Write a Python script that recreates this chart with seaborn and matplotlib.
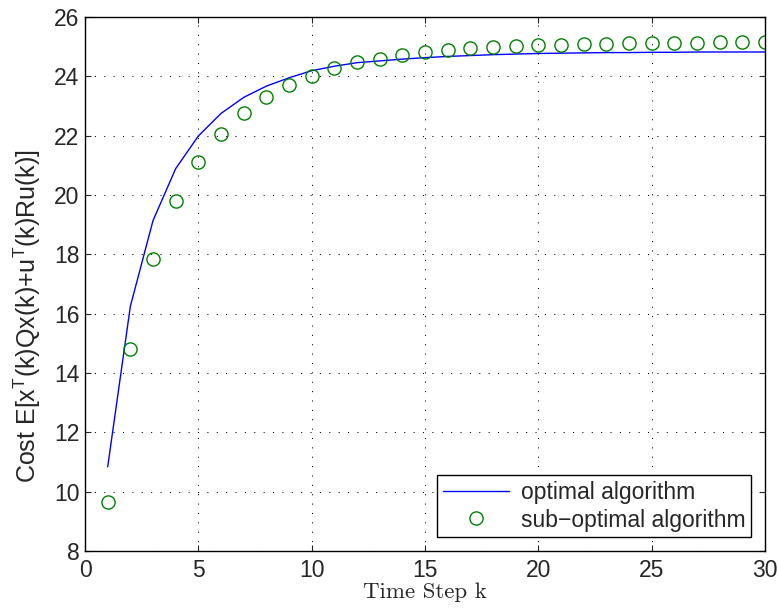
import numpy as np
import pandas as pd
import matplotlib
matplotlib.use('Agg')
import matplotlib.pyplot as plt
import seaborn as sns

# time steps
steps = list(range(1, 31))

# optimal algorithm cost (blue line)
optimal_cost = [10.84, 16.25, 19.14, 20.89, 21.99, 22.75, 23.29, 23.67, 23.95, 24.19,
                24.34, 24.46, 24.52, 24.58, 24.63, 24.67, 24.70, 24.73, 24.75, 24.77,
                24.78, 24.79, 24.80, 24.80, 24.81, 24.81, 24.82, 24.82, 24.82, 24.82]

# sub-optimal algorithm cost (green circles)
suboptimal_cost = [9.65, 14.82, 17.85, 19.80, 21.12, 22.07, 22.78, 23.30, 23.71, 24.02,
                   24.27, 24.47, 24.60, 24.72, 24.81, 24.88, 24.94, 24.98, 25.02, 25.05,
                   25.07, 25.09, 25.10, 25.11, 25.12, 25.13, 25.13, 25.14, 25.14, 25.14]

sns.set_style('ticks')
plt.rcParams['font.family'] = ['Liberation Sans', 'DejaVu Sans']
plt.rcParams['mathtext.fontset'] = 'custom'
plt.rcParams['mathtext.rm'] = 'Liberation Sans'
plt.rcParams['mathtext.it'] = 'Liberation Sans'

df = pd.DataFrame({'k': steps, 'optimal': optimal_cost, 'suboptimal': suboptimal_cost})

fig = plt.figure(figsize=(7.78, 6.11), dpi=100)
ax = fig.add_axes([0.1093, 0.0982, 0.874, 0.874])

sns.lineplot(data=df, x='k', y='optimal', ax=ax, color='#0000ff', linewidth=1.0,
             label='optimal algorithm')
sns.lineplot(data=df, x='k', y='suboptimal', ax=ax, linestyle='', marker='o',
             markersize=9.5, markerfacecolor='none', markeredgecolor='#008000',
             markeredgewidth=1.0, color='#008000', label='sub\u2212optimal algorithm')

ax.set_xlim(0, 30)
ax.set_ylim(8, 26)
ax.set_xticks(range(0, 31, 5))
ax.set_yticks(range(8, 27, 2))
ax.tick_params(direction='in', top=True, right=True, labelsize=16.5, length=4.5, width=0.8)
ax.tick_params(axis='x', pad=6)
ax.tick_params(axis='y', pad=4)
ax.grid(True, linestyle=(0, (1, 8)), color='black', linewidth=0.75)
for s in ax.spines.values():
    s.set_linewidth(1.0)
    s.set_color('black')

ax.set_xlabel('Time Step k', family='cmr10', fontsize=16.5, labelpad=0)
ax.set_ylabel(r'Cost E[x$^{\mathrm{T}}$(k)Qx(k)+u$^{\mathrm{T}}$(k)Ru(k)]', fontsize=18)
ax.yaxis.set_label_coords(-0.062, 0.44)

leg = ax.legend(loc='lower right', fontsize=16.5, fancybox=False, framealpha=1,
                edgecolor='black', borderaxespad=0.6, handlelength=2.9, borderpad=0.25,
                labelspacing=0.2, handletextpad=0.5)
leg.get_frame().set_linewidth(1.0)

fig.savefig('out.png', dpi=100)
